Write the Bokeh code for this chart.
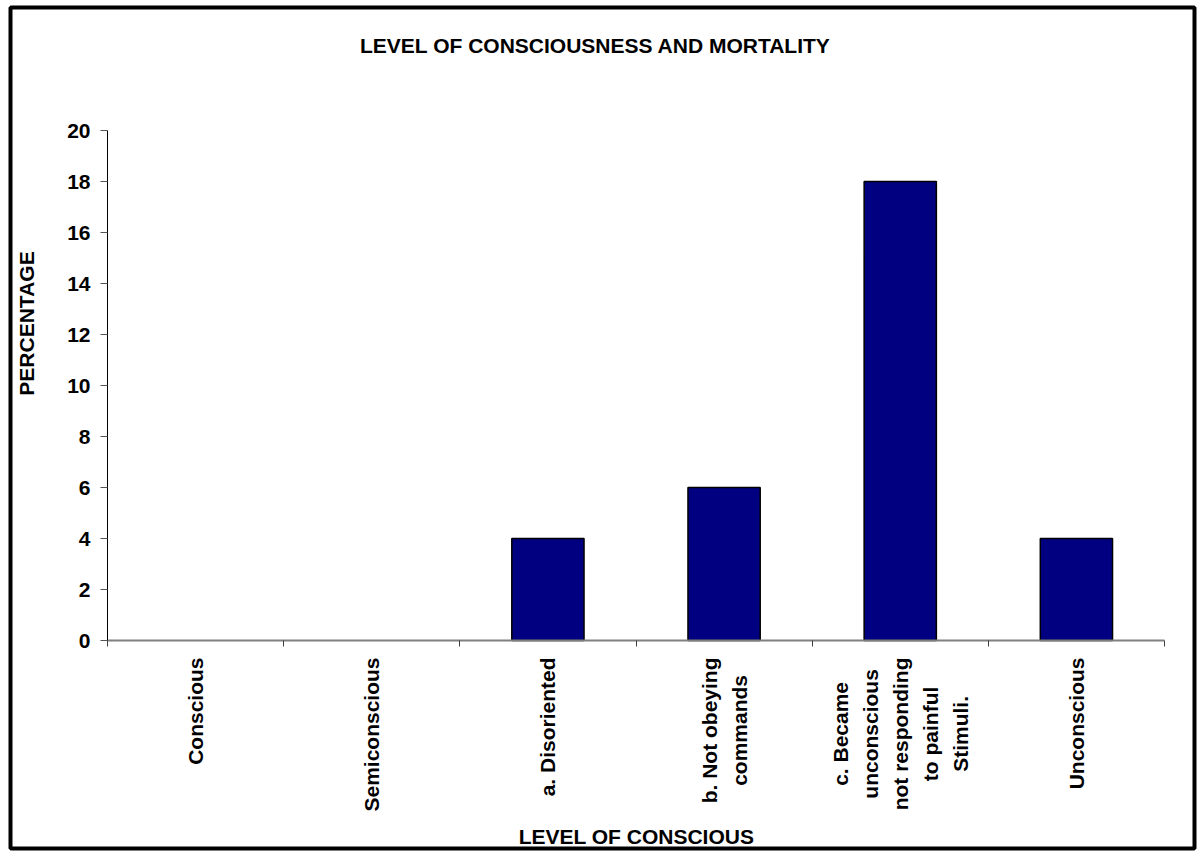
import math

from bokeh.core.properties import value
from bokeh.embed import file_html
from bokeh.models import ColumnDataSource, FixedTicker, Label, LinearAxis, Range1d
from bokeh.plotting import figure
from bokeh.resources import INLINE

# --- data -------------------------------------------------------------------
categories = [
    "Conscious",
    "Semiconscious",
    "a. Disoriented",
    "b. Not obeying\ncommands",
    "c. Became\nunconscious\nnot responding\nto painful\nStimuli.",
    "Unconscious",
]
percentages = [0, 0, 4, 6, 18, 4]
y_ticks = [0, 2, 4, 6, 8, 10, 12, 14, 16, 18, 20]

title_text = "LEVEL OF CONSCIOUSNESS AND MORTALITY"
x_title = "LEVEL OF CONSCIOUS"
y_title = "PERCENTAGE"

FONT = "Liberation Sans"
FS = "21px"

# --- page geometry (pixels) -------------------------------------------------
W, H = 1201, 857
BOX_L, BOX_R, BOX_T, BOX_B = 10, 1194, 7, 848        # framed chart area
AX_L, AX_R, AX_T, AX_B = 107, 1164, 130, 640         # value/category axes
Y_MAX = 20

n = len(categories)
px_per_cat = (AX_R - AX_L) / n
px_per_unit = (AX_B - AX_T) / Y_MAX


def to_x(px):
    return (px - AX_L) / px_per_cat


def to_y(py):
    return (AX_B - py) / px_per_unit


# each category occupies one unit; bars sit in the middle of their slot
positions = [i + 0.5 for i in range(n)]

p = figure(
    width=W, height=H,
    x_range=Range1d(to_x(BOX_L), to_x(BOX_R)),
    y_range=Range1d(to_y(BOX_B), to_y(BOX_T)),
    x_axis_location=None, y_axis_location=None,
    output_backend="svg",
    toolbar_location=None,
    min_border_left=BOX_L, min_border_right=W - BOX_R,
    min_border_top=BOX_T, min_border_bottom=H - BOX_B,
)
p.xgrid.visible = False
p.ygrid.visible = False
p.background_fill_color = "white"
p.border_fill_color = "white"
p.outline_line_color = "black"
p.outline_line_width = 4

src = ColumnDataSource(dict(
    x=positions,
    base=[0] * n,
    val=percentages,
    cat=categories,
    edge=["black" if v > 0 else None for v in percentages],
))
p.vbar(x="x", top="val", width=0.41, source=src,
       fill_color="#000080", line_color="edge", line_width=1.5)

# value axis
yax = LinearAxis(
    fixed_location=0, bounds=(0, Y_MAX),
    ticker=FixedTicker(ticks=y_ticks),
    axis_line_color="black", axis_line_width=1,
    major_tick_in=0, major_tick_out=7, major_tick_line_color="#555555",
    minor_tick_line_color=None,
    major_label_standoff=10,
    major_label_text_font=FONT, major_label_text_font_style="bold",
    major_label_text_font_size=FS, major_label_text_color="black",
)
p.add_layout(yax, "left")

# baseline with ticks on the boundaries between categories
edge_axis = LinearAxis(
    fixed_location=0, bounds=(0, n),
    ticker=FixedTicker(ticks=list(range(n + 1))),
    axis_line_color="#808080", axis_line_width=2,
    major_tick_in=0, major_tick_out=6, major_tick_line_color="#404040",
    minor_tick_line_color=None,
    major_label_text_color=None,
)
p.add_layout(edge_axis, "below")

# category names, reading bottom to top, lines centred on each other
p.text(x="x", y="base", text="cat", source=src, angle=math.pi / 2,
       y_offset=17, anchor=value("center_right"),
       text_align="center", text_baseline="middle",
       text_font=value(FONT), text_font_style="bold",
       text_font_size=value(FS), text_color="black", text_line_height=1.3)

common = dict(text_font=FONT, text_font_style="bold", text_font_size=FS,
              text_color="black", text_align="center", text_baseline="middle")
p.add_layout(Label(x=to_x(595), y=to_y(45), text=title_text, **common))
p.add_layout(Label(x=to_x(636), y=to_y(836), text=x_title, **common))
p.add_layout(Label(x=to_x(26), y=to_y(323), text=y_title, angle=math.pi / 2, **common))

open("out.html", "w").write(file_html(p, INLINE))
